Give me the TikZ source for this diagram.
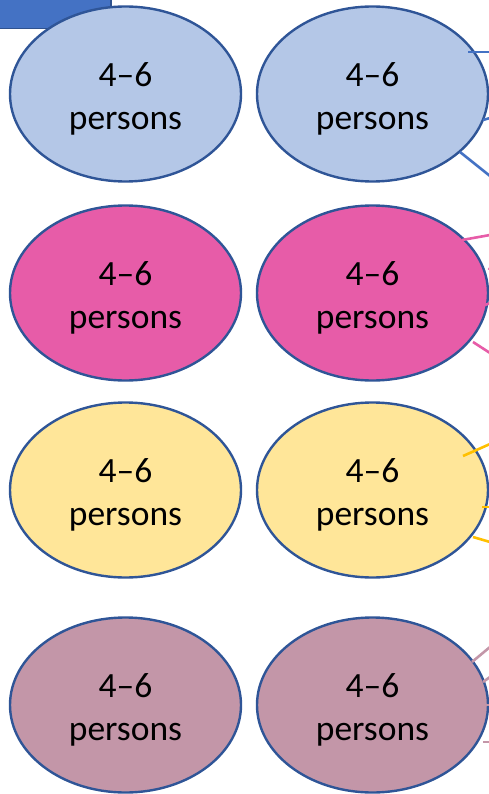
\documentclass[tikz,border=0pt]{standalone}
\usepackage{fontspec}
\setmainfont{Carlito}
\usetikzlibrary{shapes.geometric,calc}

\definecolor{edgeblue}{HTML}{2F5597}
\definecolor{tabblue}{HTML}{4472C4}
\definecolor{tabedge}{HTML}{2F528F}
\definecolor{fillblue}{HTML}{B4C7E7}
\definecolor{fillpink}{HTML}{E75CA8}
\definecolor{fillyellow}{HTML}{FFE699}
\definecolor{fillmauve}{HTML}{C396A8}
\definecolor{lineblue}{HTML}{4472C4}
\definecolor{linepink}{HTML}{E75CA8}
\definecolor{lineyellow}{HTML}{FFC000}
\definecolor{linemauve}{HTML}{C396A8}

\tikzset{
  group/.style={ellipse, draw=edgeblue, line width=2.4pt,
    minimum width=231pt, minimum height=175pt, inner sep=0pt,
    align=center, font=\fontsize{35.5pt}{43pt}\selectfont,
    text=black},
  grouptext/.style={yshift=-5pt},
  spoke/.style={line width=2.6pt}
}

\begin{document}
\begin{tikzpicture}[x=1pt,y=1pt]
  \useasboundingbox (0,0) rectangle (489,-794);
  \clip (0,0) rectangle (489,-794);

  % tab in the upper left corner
  \node[draw=tabedge, fill=tabblue, line width=1.5pt, inner sep=0pt,
        minimum width=116pt, minimum height=34pt, anchor=north west]
        (tab) at (-6,6) {};

  % four rows of groups
  \node[group, fill=fillblue]   (g1a) at (125.5,-94)  {};
  \node[group, fill=fillblue]   (g1b) at (372.5,-94)  {};
  \node[group, fill=fillpink]   (g2a) at (125.5,-293) {};
  \node[group, fill=fillpink]   (g2b) at (372.5,-293) {};
  \node[group, fill=fillyellow] (g3a) at (125.5,-490) {};
  \node[group, fill=fillyellow] (g3b) at (372.5,-490) {};
  \node[group, fill=fillmauve]  (g4a) at (125.5,-705) {};
  \node[group, fill=fillmauve]  (g4b) at (372.5,-705) {};

  % group sizes
  \foreach \g in {g1a,g1b,g2a,g2b,g3a,g3b,g4a,g4b}
    \node[align=center, font=\fontsize{35.5pt}{43pt}\selectfont,
          inner sep=0pt, grouptext] (\g-t) at (\g.center) {4–6\\persons};

  % free ends of the spokes at the right edge
  \coordinate (e1a) at (490,-52);
  \coordinate (e1b) at (490,-118);
  \coordinate (e1c) at (490,-176);
  \coordinate (e2a) at (490,-235);
  \coordinate (e2b) at (490,-268);
  \coordinate (e2c) at (490,-303);
  \coordinate (e2d) at (490,-353);
  \coordinate (e3a) at (490,-444);
  \coordinate (e3b) at (490,-507);
  \coordinate (e3c) at (490,-542);
  \coordinate (e4a) at (490,-647);
  \coordinate (e4b) at (490,-677);
  \coordinate (e4c) at (490,-705);
  \coordinate (e4d) at (490,-742);

  % spokes leaving the right-hand groups
  \draw[spoke, lineblue] ($(g1b.center)+(95.5,42)$)   -- (e1a);
  \draw[spoke, lineblue] ($(g1b.center)+(110.5,-26)$) -- (e1b);
  \draw[spoke, lineblue] ($(g1b.center)+(87.5,-58)$)  -- (e1c);

  \draw[spoke, linepink] ($(g2b.center)+(89.5,53)$)   -- (e2a);
  \draw[spoke, linepink] ($(g2b.center)+(116.5,23)$)  -- (e2b);
  \draw[spoke, linepink] ($(g2b.center)+(112.5,-12)$) -- (e2c);
  \draw[spoke, linepink] ($(g2b.center)+(100.5,-49)$) -- (e2d);

  \draw[spoke, lineyellow] ($(g3b.center)+(90.5,34)$)   -- (e3a);
  \draw[spoke, lineyellow] ($(g3b.center)+(109.5,-17)$) -- (e3b);
  \draw[spoke, lineyellow] ($(g3b.center)+(100.5,-47)$) -- (e3c);

  \draw[spoke, linemauve] ($(g4b.center)+(99.5,43)$)   -- (e4a);
  \draw[spoke, linemauve] ($(g4b.center)+(110.5,23)$)  -- (e4b);
  \draw[spoke, linemauve] ($(g4b.center)+(112.5,0)$)   -- (e4c);
  \draw[spoke, linemauve] ($(g4b.center)+(110.5,-37)$) -- (e4d);
\end{tikzpicture}
\end{document}
